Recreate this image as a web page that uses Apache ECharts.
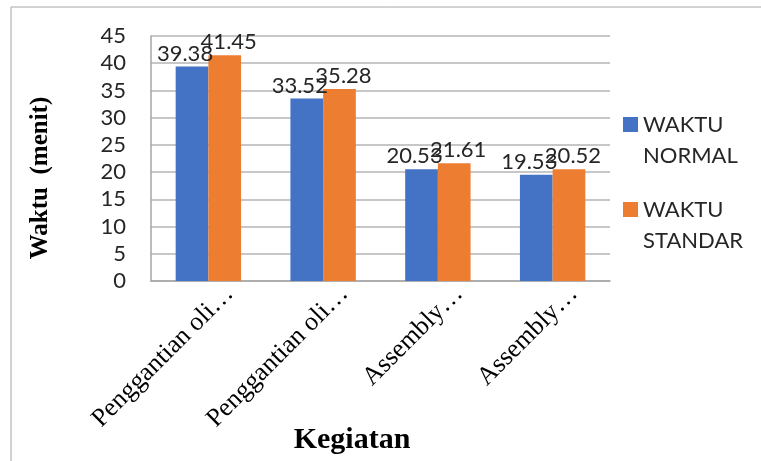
<!DOCTYPE html>
<html>
<head>
<meta charset="utf-8">
<style>
  html, body { margin: 0; padding: 0; background: #fff; }
  #chart { width: 761px; height: 461px; }
</style>
<script src="https://cdn.jsdelivr.net/npm/echarts@6/dist/echarts.min.js"></script>
</head>
<body>
<div id="chart"></div>
<script>
// data
const categories = ['Penggantian oli…', 'Penggantian oli…', 'Assembly…', 'Assembly…']
const waktuNormal = [39.38, 33.52, 20.53, 19.53]
const waktuStandar = [41.45, 35.28, 21.61, 20.52]
const seriesNames = ['WAKTU NORMAL', 'WAKTU STANDAR']
const yTicks = { min: 0, max: 45, interval: 5 }

const numFont = 'Lato'
const textColor = '#262626'

const chart = echarts.init(document.getElementById('chart'))

// one legend per series so each two-line item can sit where excel put it
function legendFor(name, top) {
  return {
    data: [name],
    left: 623,
    top: top,
    padding: 0,
    itemWidth: 15,
    itemHeight: 15,
    icon: 'rect',
    selectedMode: false,
    // leading blank line keeps the first word level with the square
    formatter: (v) => '\n' + v.replace(' ', '\n'),
    textStyle: {
      fontFamily: numFont,
      fontSize: 22,
      lineHeight: 31,
      color: textColor
    }
  }
}

function barSeries(name, data, color, dx) {
  return {
    name: name,
    type: 'bar',
    data: data,
    barGap: '0%',
    barCategoryGap: '43%',
    itemStyle: { color: color },
    label: {
      show: true,
      position: 'top',
      distance: 2,
      offset: [dx, 0],
      fontFamily: numFont,
      fontSize: 22,
      color: textColor
    },
    animation: false
  }
}

chart.setOption({
  animation: false,
  graphic: [
    {
      type: 'rect',
      shape: { x: 11, y: 7, width: 900, height: 600 },
      style: { fill: 'none', stroke: '#a6a6a6', lineWidth: 1 },
      silent: true
    },
    {
      // y axis title sits a bit below the plot middle in the original
      type: 'text',
      x: 41,
      y: 178,
      rotation: Math.PI / 2,
      style: {
        text: 'Waktu  (menit)',
        fontFamily: 'Liberation Serif',
        fontWeight: 'bold',
        fontSize: 25,
        fill: '#000',
        textAlign: 'center',
        textVerticalAlign: 'middle'
      }
    },
    {
      type: 'text',
      x: 352,
      y: 440,
      style: {
        text: 'Kegiatan',
        fontFamily: 'Liberation Serif',
        fontWeight: 'bold',
        fontSize: 30,
        fill: '#000',
        textAlign: 'center',
        textVerticalAlign: 'middle'
      }
    }
  ],
  legend: [
    legendFor(seriesNames[0], 78),
    legendFor(seriesNames[1], 163)
  ],
  grid: {
    left: 151,
    right: 151,
    top: 36,
    bottom: 180
  },
  xAxis: {
    type: 'category',
    data: categories,
    axisLine: { show: true, lineStyle: { color: '#a6a6a6', width: 1.5 } },
    axisTick: { show: false },
    axisLabel: {
      rotate: 45,
      interval: 0,
      margin: 30,
      padding: [0, -30, 0, 0],
      fontFamily: 'Liberation Serif',
      fontSize: 26,
      color: '#000'
    }
  },
  yAxis: {
    type: 'value',
    min: yTicks.min,
    max: yTicks.max,
    interval: yTicks.interval,
    axisLine: { show: true, lineStyle: { color: '#a6a6a6', width: 1.5 } },
    axisTick: { show: false },
    axisLabel: {
      margin: 25,
      fontFamily: numFont,
      fontSize: 22,
      color: textColor
    },
    splitLine: { lineStyle: { color: '#b4b4b4', width: 1.5 } }
  },
  series: [
    barSeries(seriesNames[0], waktuNormal, '#4472C4', -7),
    barSeries(seriesNames[1], waktuStandar, '#ED7D31', 4)
  ]
})
</script>
</body>
</html>
